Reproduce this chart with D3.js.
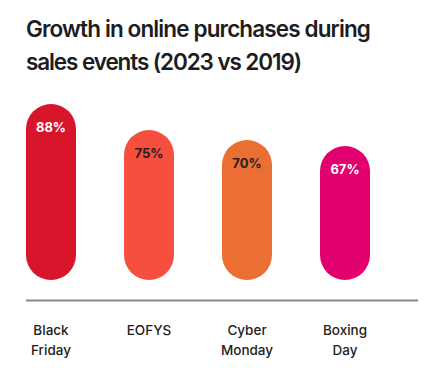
<!DOCTYPE html>
<html><head><meta charset="utf-8">
<script src="https://cdn.jsdelivr.net/npm/d3@7"></script>
<style>body{margin:0;background:#fff}svg{display:block}</style>
</head><body>
<svg id="c" width="432" height="376"></svg>
<script>
const categories = ["Black Friday", "EOFYS", "Cyber Monday", "Boxing Day"];
const labelLines = [["Black", "Friday"], ["EOFYS"], ["Cyber", "Monday"], ["Boxing", "Day"]];
const values = [88, 75, 70, 67];
const colors = ["#d7152b", "#f64f3e", "#eb6e33", "#e2006f"];
const labelColors = ["#ffffff", "#222222", "#222222", "#ffffff"];
const titleLines = ["Growth in online purchases during", "sales events (2023 vs 2019)"];
const titleWidths = [344, 275];

const svg = d3.select("#c");
const font = "Inter, 'Noto Sans', sans-serif";

// title
const t = svg.append("g");
titleLines.forEach((s, i) => {
  const el = t.append("text").attr("x", 26).attr("y", 37 + i * 33)
    .attr("font-family", font).attr("font-weight", 600).attr("font-size", 22.5)
    .attr("letter-spacing", 0).attr("fill", "#1c1c22").text(s);
  const w = el.node().getComputedTextLength();
  const ls = (titleWidths[i] - w) / s.length;
  el.attr("letter-spacing", ls.toFixed(2));
});

const x = d3.scaleBand().domain(categories).range([2, 394]).paddingInner(0.49).paddingOuter(0.245);
const y = d3.scaleLinear().domain([0, 88]).range([280, 104]);
const bw = 50;

const g = svg.append("g");
categories.forEach((c, i) => {
  const cx = x(c) + x.bandwidth() / 2;
  const top = y(values[i]), bot = y(0);
  g.append("rect").attr("x", cx - bw / 2).attr("y", top).attr("width", bw)
    .attr("height", bot - top).attr("rx", bw / 2).attr("ry", bw / 2).attr("fill", colors[i]);
  g.append("text").attr("x", cx).attr("y", top + 28).attr("text-anchor", "middle")
    .attr("font-family", font).attr("font-weight", 700).attr("font-size", 13)
    .attr("fill", labelColors[i]).text(values[i] + "%");
  labelLines[i].forEach((l, j) => {
    g.append("text").attr("x", cx).attr("y", 335 + j * 20).attr("text-anchor", "middle")
      .attr("font-family", font).attr("font-weight", 500).attr("font-size", 13.5)
      .attr("fill", "#222").text(l);
  });
});

// baseline
svg.append("line").attr("x1", 26).attr("x2", 418).attr("y1", 300.5).attr("y2", 300.5)
  .attr("stroke", "#88878b").attr("stroke-width", 2);
</script>
</body></html>
